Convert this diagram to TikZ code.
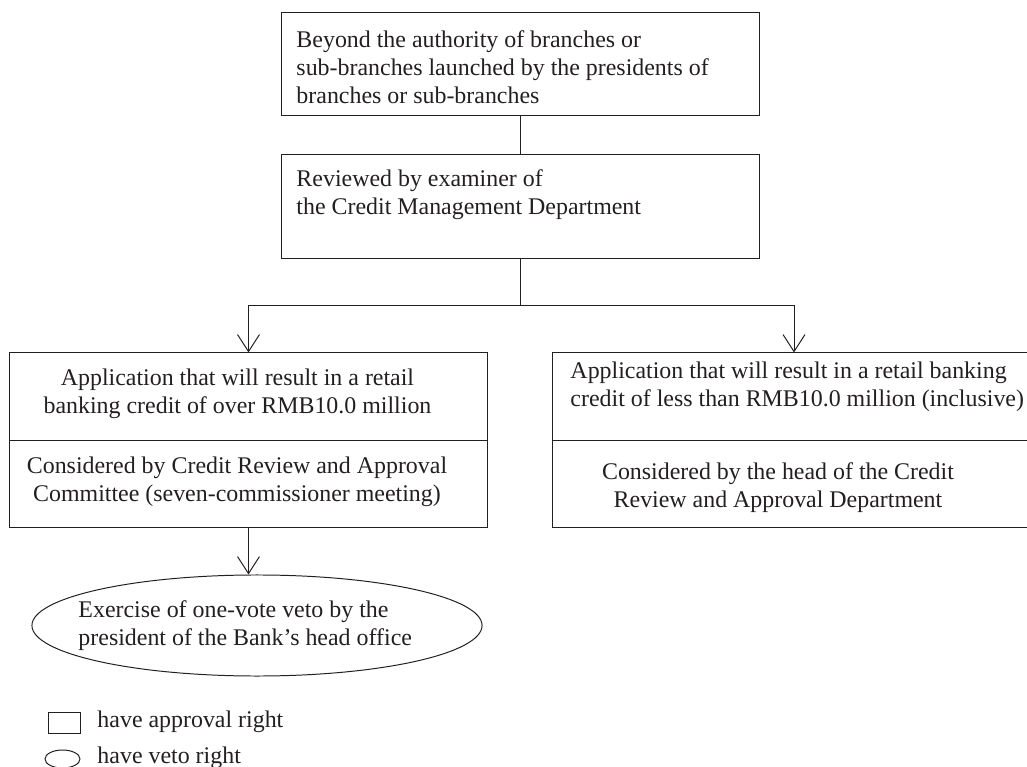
\documentclass[tikz,border=0pt]{standalone}
\usepackage{fontspec}
\setmainfont{Liberation Serif}
\usepackage{tikz}
\usetikzlibrary{arrows.meta,shapes.geometric}

\definecolor{ink}{RGB}{35,31,32}

\tikzset{
  box/.style={draw, rectangle, inner sep=0pt},
  oval/.style={draw, ellipse, inner sep=0pt},
  txt/.style={inner sep=0pt, font=\fontsize{17}{19.9}\selectfont},
  vee/.style={-{Straight Barb[length=12.1pt, width=15.6pt]}}
}

\begin{document}
\begin{tikzpicture}[x=0.025cm, y=-0.025cm, line width=0.7pt, draw=ink, text=ink]
\useasboundingbox (0,0) rectangle (1027,767);
\draw (520.5,64) node[box, minimum width=11.925cm, minimum height=2.55cm](top){}
    (520.5,206.5) node[box, minimum width=11.925cm, minimum height=2.575cm](review){}
    (248.5,440) node[box, minimum width=11.925cm, minimum height=4.35cm](over){}
    (791,440) node[box, minimum width=11.9cm, minimum height=4.35cm](under){}
    (257,625.5) node[oval, minimum width=11.25cm, minimum height=2.525cm](veto){}
    (64,722.5) node[box, minimum width=0.8cm, minimum height=0.525cm](keybox){}
    (62.5,759) node[oval, minimum width=0.875cm, minimum height=0.45cm](keyoval){};
\node[txt, anchor=west, align=left](toptext) at (296,67)
    {Beyond the authority of branches or\\sub-branches launched by the presidents of\\branches or sub-branches};
\node[txt, anchor=west, align=left](reviewtext) at (296,195)
    {Reviewed by examiner of\\the Credit Management Department};
\node[txt, align=center](overtop) at (237.5,394)
    {Application that will result in a retail\\banking credit of over RMB10.0 million};
\node[txt, align=center](overbot) at (237,482)
    {Considered by Credit Review and Approval\\Committee (seven-commissioner meeting)};
\node[txt, anchor=west, align=left](undertop) at (570,387)
    {Application that will result in a retail banking\\credit of less than RMB10.0 million (inclusive)};
\node[txt, align=center](underbot) at (778,488)
    {Considered by the head of the Credit\\Review and Approval Department};
\node[txt, anchor=west, align=left](vetotext) at (78,626)
    {Exercise of one-vote veto by the\\president of the Bank's head office};
\node[txt, anchor=west](keyboxtext) at (97,722) {have approval right};
\node[txt, anchor=west](keyovaltext) at (97,758) {have veto right};
\coordinate (split) at (520.5,305);
    \draw [-] (top) -- (review);
    \draw [-] (review) -- (split);
    \draw [vee] (split) -| (over.north);
    \draw [vee] (split) -| ([xshift=0.075cm]under.north);
    \draw [vee] (over.south) -- (over.south |- veto.north);
    \draw [-] (over.west) -- (over.east);
    \draw [-] (under.west) -- (under.east);
\end{tikzpicture}
\end{document}
